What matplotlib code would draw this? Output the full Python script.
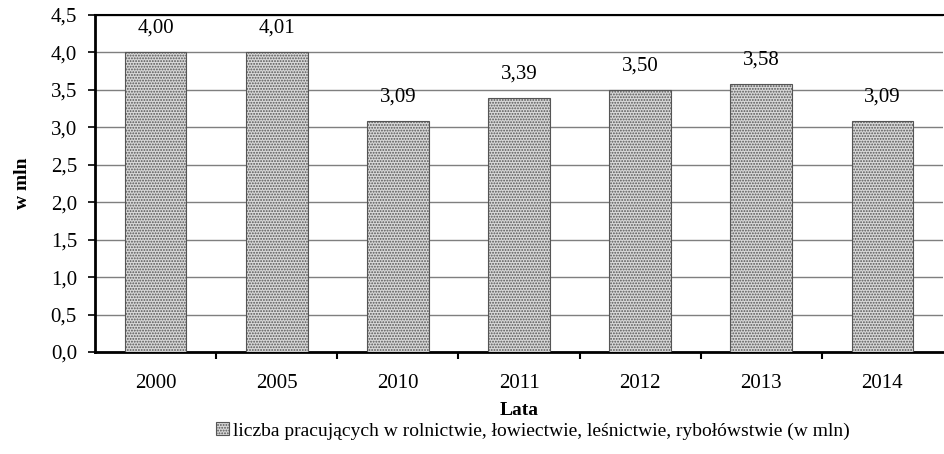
import matplotlib
matplotlib.use("Agg")
import matplotlib.pyplot as plt
from matplotlib.patches import Patch

years = ["2000", "2005", "2010", "2011", "2012", "2013", "2014"]
values = [4.00, 4.01, 3.09, 3.39, 3.50, 3.58, 3.09]
yticks = [0.0, 0.5, 1.0, 1.5, 2.0, 2.5, 3.0, 3.5, 4.0, 4.5]
legend_label = "liczba pracujących w rolnictwie, łowiectwie, leśnictwie, rybołówstwie (w mln)"

plt.rcParams['font.family'] = ['Liberation Serif', 'DejaVu Serif']
plt.rcParams['hatch.color'] = '#5a5a5a'
plt.rcParams['hatch.linewidth'] = 0.9

fig = plt.figure(figsize=(9.44, 4.54), dpi=100)
ax = fig.add_axes([95/944, (454-352)/454, (943-95)/944, (352-15)/454])

x = list(range(len(years)))
FACE = '#d8d8d8'
ax.bar(x, values, width=0.51, facecolor=FACE, edgecolor='#555555',
       linewidth=0.8, hatch='......', zorder=3)
for xi, v in zip(x, values):
    ax.text(xi, min(v + 0.32, 4.4), f"{v:.2f}".replace('.', ','),
            ha='center', va='center', fontsize=15)

ax.set_xlim(-0.5, len(years) - 0.5)
ax.set_ylim(0, 4.5)
ax.set_yticks(yticks)
ax.set_yticklabels([f"{t:.1f}".replace('.', ',') for t in yticks], fontsize=15)
ax.set_xticks(x)
ax.set_xticklabels(years, fontsize=15)
ax.set_xticks([i + 0.5 for i in range(len(years) - 1)], minor=True)
ax.tick_params(axis='x', which='major', length=0, pad=16)
ax.tick_params(axis='x', which='minor', length=5, width=1.5, direction='out')
ax.tick_params(axis='y', length=5, width=1.2, direction='out', pad=8)

ax.yaxis.grid(True, color='#7f7f7f', linewidth=1.0, zorder=0)
ax.set_axisbelow(True)

for s in ['left', 'bottom']:
    ax.spines[s].set_linewidth(2.0)
    ax.spines[s].set_color('black')
ax.spines['top'].set_linewidth(1.5)
ax.spines['right'].set_visible(False)

ax.set_ylabel("w mln", fontsize=14, fontweight='bold', labelpad=14)
ax.set_xlabel("Lata", fontsize=14, fontweight='bold', labelpad=6)

handle = Patch(facecolor=FACE, edgecolor='#555555', hatch='......', linewidth=0.8)
fig.legend([handle], [legend_label], loc='center', bbox_to_anchor=(533/944, 1 - 431/454),
           frameon=False, fontsize=14, handlelength=0.65, handleheight=0.65, handletextpad=0.25)

fig.savefig("out.png", dpi=100)
